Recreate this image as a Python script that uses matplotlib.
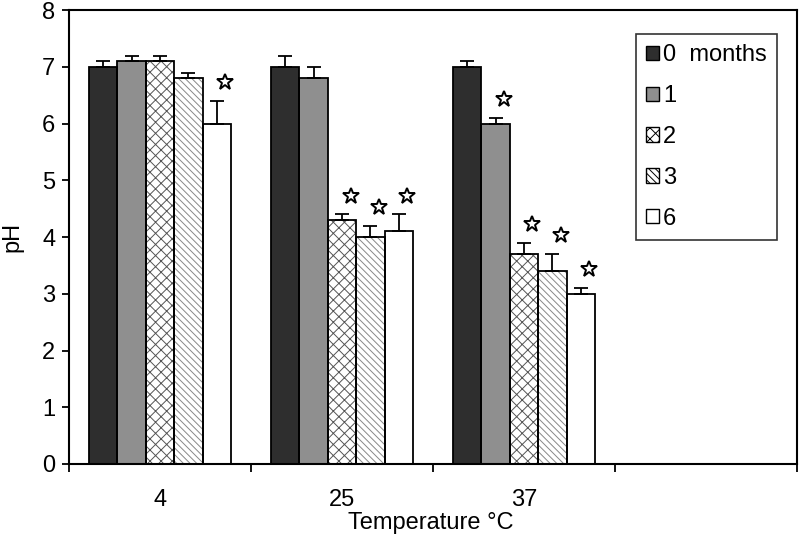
import numpy as np
import matplotlib.pyplot as plt

plt.rcParams['font.family'] = ['Liberation Sans', 'DejaVu Sans']
plt.rcParams['hatch.linewidth'] = 0.7

#%%
temps = ['4', '25', '37', '']
months = ['0  months', '1', '2', '3', '6']

ph_0 = [7.0, 7.0, 7.0]
ph_1 = [7.1, 6.8, 6.0]
ph_2 = [7.1, 4.3, 3.7]
ph_3 = [6.8, 4.0, 3.4]
ph_6 = [6.0, 4.1, 3.0]

err_0 = [0.1, 0.2, 0.1]
err_1 = [0.1, 0.2, 0.1]
err_2 = [0.1, 0.1, 0.2]
err_3 = [0.1, 0.2, 0.3]
err_6 = [0.4, 0.3, 0.1]

# significant difference from 0 months
sig_0 = [False, False, False]
sig_1 = [False, False, True]
sig_2 = [False, True, True]
sig_3 = [False, True, True]
sig_6 = [True, True, True]

#%%
series = [ph_0, ph_1, ph_2, ph_3, ph_6]
errs = [err_0, err_1, err_2, err_3, err_6]
sigs = [sig_0, sig_1, sig_2, sig_3, sig_6]
fills = ['#2e2e2e', '#8f8f8f', 'white', 'white', 'white']
hatches = [None, None, 'xxx', '\\\\\\\\\\', None]
hatch_cols = ['#666666', '#666666', '#555555', '#888888', '#666666']

fig = plt.figure(figsize=(7.99, 5.37), dpi=100)
ax = fig.add_axes([0.0864, 0.136, 0.911, 0.845])

w = 0.156
x = np.arange(3) + 0.5

for i in range(5):
    xi = x + (i - 2) * w
    # hatch drawn in grey, then black outline on top
    ax.bar(xi, series[i], width=w, color=fills[i], hatch=hatches[i],
           edgecolor=hatch_cols[i], linewidth=0, zorder=2)
    ax.bar(xi, series[i], width=w, color='none', edgecolor='black',
           linewidth=1.3, zorder=3)
    ax.errorbar(xi, series[i], yerr=[np.zeros(3), errs[i]], fmt='none',
                ecolor='black', elinewidth=1.3, capsize=5, capthick=1.3, zorder=4)
    for j in range(3):
        if sigs[i][j]:
            ax.plot(xi[j] + 0.3 * w, series[i][j] + errs[i][j] + 0.33, marker='*',
                    ms=12, mfc='white', mec='black', mew=1.4, zorder=5)

# legend
handles = [plt.Rectangle((0, 0), 1, 1, facecolor=fills[i], hatch=hatches[i],
                         edgecolor='black', linewidth=1) for i in range(5)]
leg = ax.legend(handles, months, loc='upper right', bbox_to_anchor=(0.9725, 0.947),
                fontsize=17, frameon=True, fancybox=False, edgecolor='black',
                handlelength=0.55, handleheight=0.55, handletextpad=0.2,
                labelspacing=0.8, borderpad=0.42, borderaxespad=0)
leg.get_frame().set_linewidth(1.2)
leg.set_zorder(6)

ax.set_xlim(0, 4)
ax.set_ylim(0, 8)
ax.set_yticks(range(9))
ax.set_xticks(range(5))
ax.set_xticklabels([])
ax.set_xticks(np.arange(4) + 0.5, minor=True)
ax.set_xticklabels(temps, minor=True)
ax.tick_params(axis='x', which='minor', length=0, pad=18, labelsize=17)
ax.tick_params(axis='x', which='major', length=6, width=1.3, direction='out')
ax.tick_params(axis='y', length=5, width=1.3, labelsize=17, pad=5)

for s in ax.spines.values():
    s.set_linewidth(1.5)

ax.set_xlabel('Temperature °C', fontsize=17)
ax.xaxis.set_label_coords(0.497, -0.106)
ax.set_ylabel('pH', fontsize=17, labelpad=13)

plt.savefig('out.png', dpi=100)
